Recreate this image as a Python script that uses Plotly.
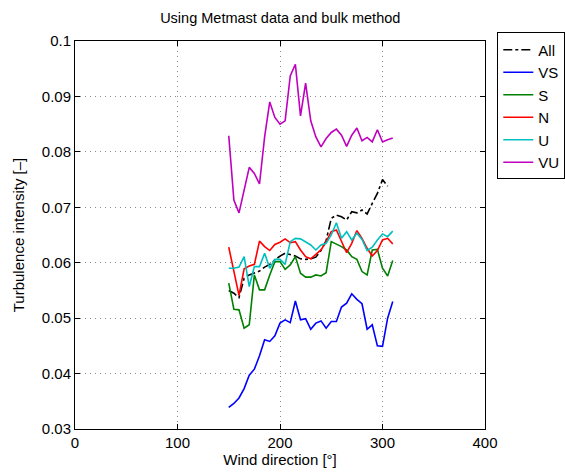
import plotly.graph_objects as go

wind_dir = [150, 155, 160, 165, 170, 175, 180, 185, 190, 195, 200, 205, 210, 215, 220, 225,
            230, 235, 240, 245, 250, 255, 260, 265, 270, 275, 280, 285, 290, 295, 300, 305, 310]

ti_all = [0.0550, 0.0545, 0.0537, 0.0572, 0.0578, 0.0582, 0.0585, 0.0592, 0.0597, 0.0605,
          0.0612, 0.0617, 0.0614, 0.0612, 0.0607, 0.0606, 0.0607, 0.0610, 0.0622, 0.0640,
          0.0680, 0.0686, 0.0683, 0.0677, 0.0692, 0.0690, 0.0695, 0.0688, 0.0707, 0.0725,
          0.0750, 0.0738, None]

ti_vs = [0.0339, 0.0346, 0.0356, 0.0373, 0.0397, 0.0408, 0.0432, 0.0461, 0.0458, 0.0468,
         0.0491, 0.0497, 0.0492, 0.0531, 0.0497, 0.0499, 0.0480, 0.0491, 0.0495, 0.0482,
         0.0494, 0.0494, 0.0520, 0.0527, 0.0544, 0.0534, 0.0526, 0.0480, 0.0488, 0.0450,
         0.0449, 0.0500, 0.0530]

ti_s = [0.0563, 0.0516, 0.0515, 0.0482, 0.0488, 0.0578, 0.0551, 0.0551, 0.0578, 0.0602,
        0.0602, 0.0588, 0.0596, 0.0611, 0.0581, 0.0574, 0.0574, 0.0578, 0.0576, 0.0582,
        0.0638, 0.0634, 0.0629, 0.0623, 0.0611, 0.0606, 0.0584, 0.0578, 0.0623, 0.0624,
        0.0590, 0.0576, 0.0604]

ti_n = [0.0628, 0.0585, 0.0541, 0.0589, 0.0594, 0.0597, 0.0639, 0.0629, 0.0622, 0.0633,
        0.0637, 0.0643, 0.0636, 0.0638, 0.0623, 0.0611, 0.0607, 0.0615, 0.0623, 0.0638,
        0.0656, 0.0659, 0.0638, 0.0618, 0.0635, 0.0658, 0.0644, 0.0626, 0.0612, 0.0622,
        0.0641, 0.0644, 0.0634]

ti_u = [0.0590, 0.0590, 0.0592, 0.0611, 0.0557, 0.0593, 0.0593, 0.0617, 0.0590, 0.0606,
        0.0606, 0.0597, 0.0638, 0.0644, 0.0643, 0.0638, 0.0632, 0.0623, 0.0632, 0.0635,
        0.0650, 0.0672, 0.0644, 0.0656, 0.0641, 0.0653, 0.0642, 0.0622, 0.0628, 0.0641,
        0.0652, 0.0647, 0.0657]

ti_vu = [0.0829, 0.0713, 0.0690, 0.0730, 0.0772, 0.0761, 0.0742, 0.0827, 0.0890, 0.0862,
         0.0850, 0.0856, 0.0937, 0.0958, 0.0865, 0.0924, 0.0856, 0.0827, 0.0809, 0.0824,
         0.0835, 0.0841, 0.0830, 0.0810, 0.0830, 0.0843, 0.0820, 0.0826, 0.0818, 0.0840,
         0.0818, 0.0822, 0.0825]

x_ticks = [0, 100, 200, 300, 400]
y_ticks = [0.03, 0.04, 0.05, 0.06, 0.07, 0.08, 0.09, 0.1]
y_ticktext = ["0.03", "0.04", "0.05", "0.06", "0.07", "0.08", "0.09", "0.1"]

series = [
    ("All", ti_all, "black", "dashdot"),
    ("VS", ti_vs, "#0000FF", "solid"),
    ("S", ti_s, "#008000", "solid"),
    ("N", ti_n, "#FF0000", "solid"),
    ("U", ti_u, "#00BFBF", "solid"),
    ("VU", ti_vu, "#BF00BF", "solid"),
]

fig = go.Figure()
for name, vals, color, dash in series:
    fig.add_trace(go.Scatter(x=wind_dir, y=vals, mode="lines", name=name,
                             line=dict(color=color, width=1.6, dash=dash),
                             connectgaps=False))

font_family = "Liberation Sans, Arial, sans-serif"
axis_common = dict(showline=True, linecolor="black", linewidth=1, mirror="ticks",
                   ticks="inside", ticklen=5, tickcolor="black",
                   showgrid=True, gridcolor="#8c8c8c", griddash="1px,4px", gridwidth=1,
                   zeroline=False, tickfont=dict(size=15, color="black"))

fig.update_layout(
    width=565, height=474,
    margin=dict(l=75, r=80, t=41, b=45, autoexpand=False),
    paper_bgcolor="white", plot_bgcolor="white",
    font=dict(family=font_family, color="black", size=14),
    title=dict(text="Using Metmast data and bulk method", x=0.496, xanchor="center",
               y=1 - 18 / 474, yanchor="middle", font=dict(size=14.5)),
    xaxis=dict(range=[0, 400], tickvals=x_ticks, ticktext=[str(v) for v in x_ticks],
               title=dict(text="Wind direction [°]", standoff=1, font=dict(size=15)),
               **axis_common),
    yaxis=dict(range=[0.03, 0.1], tickvals=y_ticks, ticktext=y_ticktext,
               title=dict(text="Turbulence intensity [–]", standoff=13, font=dict(size=15)),
               **axis_common),
    showlegend=True,
    legend=dict(x=1.03, y=1.022, xanchor="left", yanchor="top",
                bordercolor="black", borderwidth=1, bgcolor="white",
                font=dict(size=15), itemwidth=30, tracegroupgap=0),
)

fig.write_html("out.html")
